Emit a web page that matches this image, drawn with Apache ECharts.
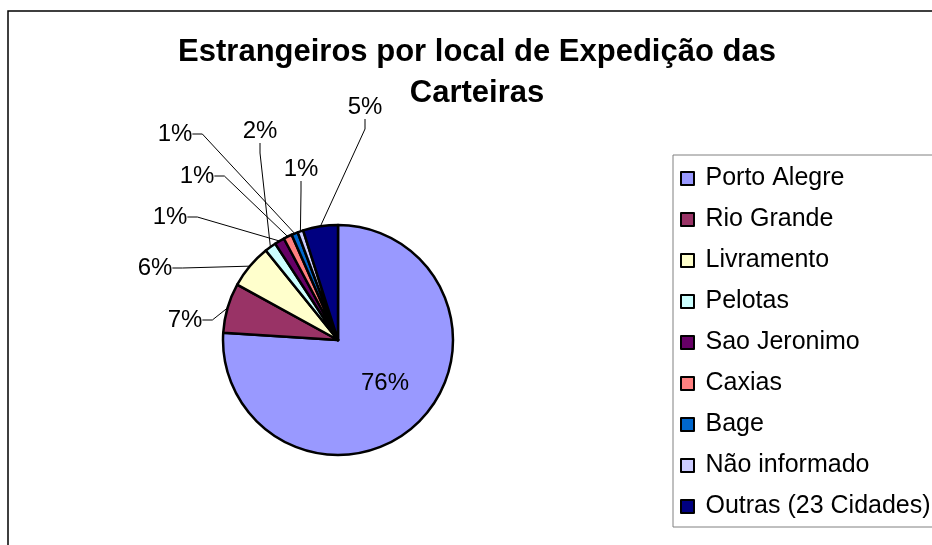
<!DOCTYPE html>
<html>
<head>
<meta charset="utf-8">
<script src="https://cdn.jsdelivr.net/npm/echarts@6/dist/echarts.min.js"></script>
<style>html,body{margin:0;padding:0;background:#fff}#c{width:932px;height:545px}</style>
</head>
<body>
<div id="c"></div>
<script>
var categories = ['Porto Alegre','Rio Grande','Livramento','Pelotas','Sao Jeronimo','Caxias','Bage','Não informado','Outras (23 Cidades)'];
var values = [76.0, 7.0, 6.2, 1.6, 1.4, 1.2, 0.9, 0.8, 4.9];
var colors = ['#9999FF','#993366','#FFFFCC','#CCFFFF','#660066','#FF8080','#0066CC','#CCCCFF','#000080'];
var titleText = 'Estrangeiros por local de Expedição das\nCarteiras';
// label anchor positions (text centres) as placed in the original
var labelPos = [[385,383],[185,320],[155,268],[260,131],[170,217],[197,176],[175,134],[301,169],[365,107]];

var chart = echarts.init(document.getElementById('c'), null, {renderer:'canvas'});
var data = categories.map(function(n,i){
  var d = {name:n, value:values[i], itemStyle:{color:colors[i]}};
  if (i === 0) d.labelLine = {show:false};
  return d;
});
chart.setOption({
  animation:false,
  graphic:[{type:'rect', shape:{x:8, y:11, width:940, height:560}, style:{fill:'none', stroke:'#000', lineWidth:1.5}, silent:true}],
  title:{text:titleText, left:472, top:27, textAlign:'center',
    textStyle:{fontFamily:'Liberation Sans, Arial', fontWeight:'bold', fontSize:31, lineHeight:41, color:'#000'}},
  legend:{orient:'vertical', left:673, top:155, height:400, padding:[11,30,8,7], itemGap:16,
    borderColor:'#808080', borderWidth:1, itemWidth:18, itemHeight:13,
    icon:'path://M0,0L10,0L10,10L0,10Z',
    itemStyle:{borderColor:'#000', borderWidth:2},
    textStyle:{fontFamily:'Liberation Sans, Arial', fontSize:25, lineHeight:24, color:'#000', padding:[0,0,0,4]},
    data:categories},
  series:[{type:'pie', center:[338,340], radius:[0,115], startAngle:90, clockwise:true,
    itemStyle:{borderColor:'#000', borderWidth:2.5},
    label:{show:true, formatter:function(p){return Math.round(p.percent)+'%';},
      fontFamily:'Liberation Sans, Arial', fontSize:24, color:'#000'},
    labelLine:{show:true, lineStyle:{color:'#000', width:1}, length:10, length2:10},
    labelLayout:function(p){
      var pos = labelPos[p.dataIndex];
      return {x:pos[0], y:pos[1], align:'center', verticalAlign:'middle'};
    },
    emphasis:{disabled:true},
    data:data}]
});
</script>
</body>
</html>
